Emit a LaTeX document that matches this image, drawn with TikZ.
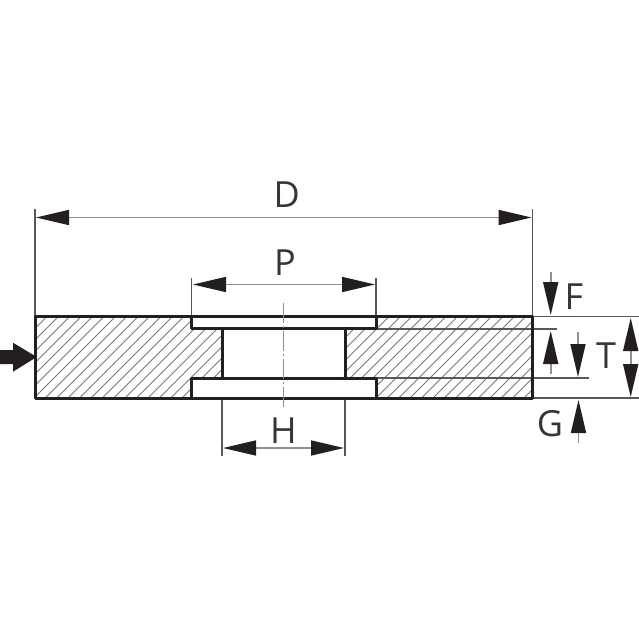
\documentclass[tikz,border=0pt]{standalone}
\usepackage{fontspec}
\setmainfont{Open Sans}
\usetikzlibrary{arrows.meta}
\definecolor{ink}{HTML}{231F20}
\tikzset{
  x=1pt,y=-1pt,
  outline/.style={line width=3pt,draw=ink,line join=round},
  thin line/.style={line width=1.1pt,draw=ink!75},
  hatchline/.style={line width=0.9pt,draw=ink!60},
  axis line/.style={line width=1.1pt,draw=ink!50,dash pattern=on 20pt off 3pt on 2pt off 3pt},
  tip/.tip={Triangle[length=33pt,width=15pt,color=ink]},
  dim/.style={line width=1.6pt,draw=ink!50},
  lab/.style={font=\fontsize{36}{36}\selectfont,text=ink!90,inner sep=0pt}
}
\begin{document}
\begin{tikzpicture}
\useasboundingbox (0,0) rectangle (639,639);
\fill[white] (0,0) rectangle (639,639);
% key points
\coordinate (ol) at (35,316);
\coordinate (or) at (532.5,316);
\coordinate (ul) at (35,398);
\coordinate (ur) at (532.5,398);
% hatching
\begin{scope}
\clip (35,316) -- (191.5,316) -- (191.5,328) -- (222,328) -- (222,378) -- (191.5,378) -- (191.5,398) -- (35,398) -- cycle
      (376,316) -- (532.5,316) -- (532.5,398) -- (376,398) -- (376,378) -- (345,378) -- (345,328) -- (376,328) -- cycle;
\foreach \k in {-3,...,50}{
  \draw[hatchline] ({\k*11.4+68.3-90},408) -- ({\k*11.4+68.3},318);
}
\end{scope}
% thin continuation lines
\draw[thin line] (376,329) -- (557,329);
\draw[thin line] (376,378) -- (589,378);
\draw[thin line] (532,316.5) -- (639,316.5);
\draw[thin line] (532,398) -- (639,398);
% extension lines
\draw[thin line] (35,209) -- (ol);
\draw[thin line] (532.5,209) -- (or);
\draw[thin line] (191.5,278) -- (191.5,316);
\draw[thin line] (376,278) -- (376,316);
\draw[thin line] (222,398) -- (222,456);
\draw[thin line] (345,398) -- (345,456);
% body outline
\draw[outline] (ol) -- (or) -- (ur) -- (ul) -- cycle;
\draw[outline] (191.5,316) -- (191.5,328) -- (376,328) -- (376,316);
\draw[outline] (191.5,398) -- (191.5,378) -- (376,378) -- (376,398);
\draw[outline] (222,328) -- (222,378);
\draw[outline] (345,328) -- (345,378);
% axis
\draw[axis line] (283.7,303) -- (283.7,410);
% dimensions
\draw[dim,tip-tip] (36,217.5) -- (531.5,217.5);
\draw[dim,tip-tip] (193,284.5) -- (375,284.5);
\draw[dim,tip-tip] (223,448) -- (344,448);
\draw[dim,-tip] (550.7,272) -- (550.7,315);
\draw[dim,-tip] (550.7,374) -- (550.7,331);
\draw[dim,-tip] (578,332) -- (578,377);
\draw[dim,-tip] (578.5,443) -- (578.5,400);
\draw[dim,tip-tip] (630.7,318) -- (630.7,397);
% locator arrow
\fill[ink] (0,350) -- (13,350) -- (13,342.7) -- (36.7,357) -- (13,371.7) -- (13,364) -- (0,364) -- cycle;
% labels
\node[lab] (labD) at (286.7,195) {D};
\node[lab] (labP) at (285,263) {P};
\node[lab] (labH) at (283.5,431) {H};
\node[lab] (labF) at (574,297) {F};
\node[lab] (labT) at (606,356) {T};
\node[lab] (labG) at (550,424) {G};
\end{tikzpicture}
\end{document}
